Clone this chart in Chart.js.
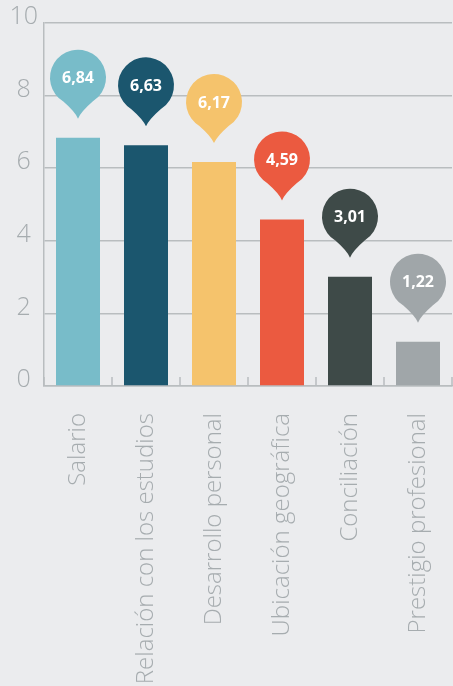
<!DOCTYPE html>
<html>
<head>
<meta charset="utf-8">
<script src="https://cdn.jsdelivr.net/npm/chart.js@4"></script>
<style>
  html, body { margin: 0; padding: 0; background: #ebecee; overflow: hidden; }
  #wrap { width: 453px; height: 686px; }
</style>
</head>
<body>
<div id="wrap"><canvas id="valoresChart"></canvas></div>
<script>
const categories = ["Salario", "Relación con los estudios", "Desarrollo personal", "Ubicación geográfica", "Conciliación", "Prestigio profesional"];
const scores = [6.84, 6.63, 6.17, 4.59, 3.01, 1.22];
const valueLabels = ["6,84", "6,63", "6,17", "4,59", "3,01", "1,22"];
const barColors = ["#78bcc9", "#1b566e", "#f5c36c", "#eb5a40", "#3e4a48", "#a0a6a9"];
const yTicks = [0, 2, 4, 6, 8, 10];

const axisGray = "#b9bdbf";
const labelGray = "#a6acaf";

// short upward ticks at category boundaries on the x axis
const boundaryTicks = {
  id: "boundaryTicks",
  afterDatasetsDraw(chart) {
    const { ctx, scales: { x } } = chart;
    const half = (x.getPixelForValue(1) - x.getPixelForValue(0)) / 2;
    const base = x.top;
    ctx.save();
    ctx.strokeStyle = axisGray;
    ctx.lineWidth = 1.5;
    for (let index = 0; index <= categories.length; index += 1) {
      const px = Math.round(x.getPixelForValue(index) - half);
      ctx.beginPath();
      ctx.moveTo(px, base);
      ctx.lineTo(px, base - 9);
      ctx.stroke();
    }
    ctx.restore();
  }
};

// pin-shaped value bubbles above each bar
const valueBubbles = {
  id: "valueBubbles",
  afterDatasetsDraw(chart) {
    const { ctx } = chart;
    const meta = chart.getDatasetMeta(0);
    const radius = 28;
    meta.data.forEach((bar, index) => {
      const tipY = bar.y - 19;
      const cx = bar.x;
      const cy = tipY - 41;
      const spread = 0.55;
      const a1 = Math.PI / 2 + spread;
      const a2 = Math.PI / 2 - spread;
      ctx.save();
      ctx.fillStyle = barColors[index];
      ctx.beginPath();
      ctx.arc(cx, cy, radius, a1, a2, false);
      ctx.quadraticCurveTo(cx + 3, tipY - 7, cx, tipY);
      ctx.quadraticCurveTo(cx - 3, tipY - 7, cx + radius * Math.cos(a1), cy + radius * Math.sin(a1));
      ctx.closePath();
      ctx.fill();
      ctx.fillStyle = "#ffffff";
      ctx.font = "700 16px 'Open Sans'";
      ctx.textAlign = "center";
      ctx.textBaseline = "middle";
      ctx.fillText(valueLabels[index], cx, cy + 1);
      ctx.restore();
    });
  }
};

new Chart(document.getElementById("valoresChart"), {
  type: "bar",
  data: {
    labels: categories,
    datasets: [
      {
        data: scores,
        backgroundColor: barColors,
        borderWidth: 0,
        barPercentage: 1,
        categoryPercentage: 0.647
      }
    ]
  },
  options: {
    responsive: true,
    maintainAspectRatio: false,
    animation: false,
    layout: { padding: { top: 23, right: 1, left: 0, bottom: 0 } },
    plugins: { legend: { display: false }, tooltip: { enabled: false } },
    scales: {
      x: {
        grid: { display: false, drawTicks: false },
        border: { display: true, color: axisGray, width: 1.5 },
        ticks: {
          color: labelGray,
          font: { family: "'Open Sans'", size: 24, weight: 300 },
          minRotation: 90,
          maxRotation: 90,
          autoSkip: false,
          padding: 27
        },
        afterFit: (scale) => {
          scale.height = 300;
          scale.paddingLeft = 0;
          scale.paddingRight = 0;
        }
      },
      y: {
        min: 0,
        max: 10,
        afterBuildTicks: (scale) => { scale.ticks = yTicks.map((value) => ({ value })); },
        grid: { color: axisGray, lineWidth: 1.5, drawTicks: false },
        border: { display: true, color: axisGray, width: 1.5 },
        ticks: {
          color: labelGray,
          font: { family: "'Open Sans'", size: 25, weight: 300 },
          crossAlign: "center",
          padding: 6,
          labelOffset: -6
        },
        afterFit: (scale) => { scale.width = 44; }
      }
    }
  },
  plugins: [boundaryTicks, valueBubbles]
});
</script>
</body>
</html>
